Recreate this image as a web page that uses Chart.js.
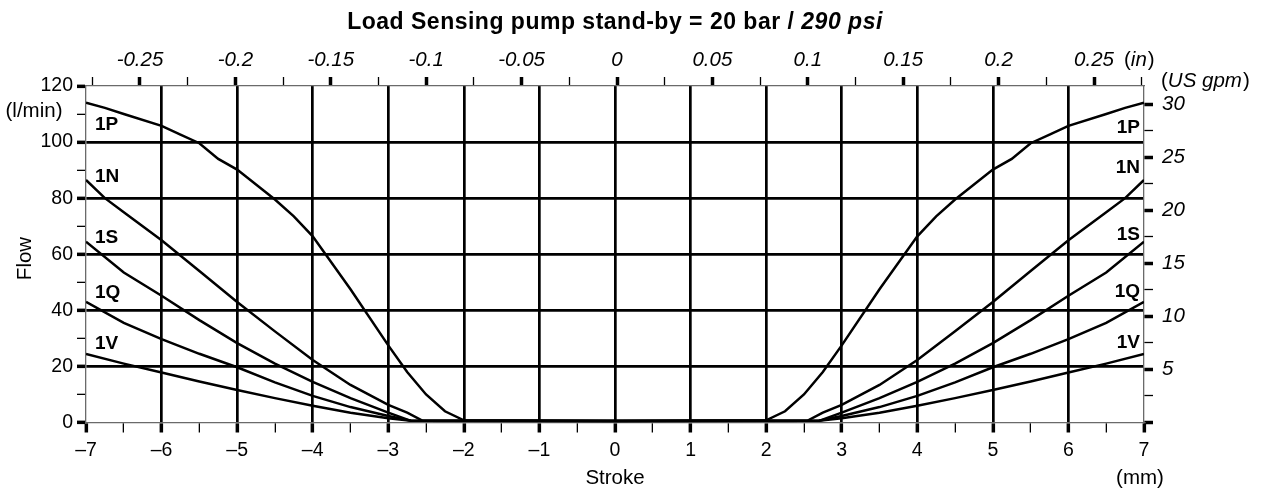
<!DOCTYPE html>
<html lang="en">
<head>
<meta charset="UTF-8">
<title>Load Sensing pump stand-by flow curves</title>
<script src="https://cdn.jsdelivr.net/npm/chart.js"></script>
<style>
  html, body { margin: 0; padding: 0; background: #fff; }
  #wrap { width: 1261px; height: 490px; }
</style>
</head>
<body>
<div id="wrap"><canvas id="flowChart" width="1261" height="490"></canvas></div>
<script>
// Spool flow vs. stroke, one pair of arrays per spool (stroke in mm, flow in l/min)
const stroke1P = [-7, -6.75, -6.5, -6, -5.75, -5.5, -5.25, -5, -4.5, -4.25, -4, -3.5, -3, -2.75, -2.5, -2.25, -2, 0, 2, 2.25, 2.5, 2.75, 3, 3.5, 4, 4.25, 4.5, 5, 5.25, 5.5, 5.75, 6, 6.5, 6.75, 7];
const flow1P   = [114, 112.2, 110, 105.8, 102.7, 99.6, 94, 90.2, 79.5, 73.5, 66.4, 47.5, 27.5, 18, 10, 4, 0.8, 0.5, 0.8, 4, 10, 18, 27.5, 47.5, 66.4, 73.5, 79.5, 90.2, 94, 99.6, 102.7, 105.8, 110, 112.2, 114];

const stroke1N = [-7, -6.75, -6.5, -6, -5.5, -5, -4.5, -4, -3.5, -3, -2.75, -2.55, 0, 2.55, 2.75, 3, 3.5, 4, 4.5, 5, 5.5, 6, 6.5, 6.75, 7];
const flow1N   = [86.5, 80, 75, 65, 54, 43, 32.5, 22.3, 13.4, 6.3, 3.5, 0.7, 0.5, 0.7, 3.5, 6.3, 13.4, 22.3, 32.5, 43, 54, 65, 75, 80, 86.5];

const stroke1S = [-7, -6.5, -6, -5.5, -5, -4.5, -4, -3.5, -3, -2.7, 0, 2.7, 3, 3.5, 4, 4.5, 5, 5.5, 6, 6.5, 7];
const flow1S   = [64.5, 53.5, 45.2, 36.5, 28.3, 21, 14.5, 8.7, 3.5, 0.6, 0.5, 0.6, 3.5, 8.7, 14.5, 21, 28.3, 36.5, 45.2, 53.5, 64.5];

const stroke1Q = [-7, -6.5, -6, -5.5, -5, -4.5, -4, -3.5, -3, -2.7, 0, 2.7, 3, 3.5, 4, 4.5, 5, 5.5, 6, 6.5, 7];
const flow1Q   = [43, 35.5, 29.7, 24.5, 19.7, 14.3, 9.5, 5.5, 2.3, 0.6, 0.5, 0.6, 2.3, 5.5, 9.5, 14.3, 19.7, 24.5, 29.7, 35.5, 43];

const stroke1V = [-7, -6.5, -6, -5.5, -5, -4.5, -4, -3.5, -3, -2.7, 0, 2.7, 3, 3.5, 4, 4.5, 5, 5.5, 6, 6.5, 7];
const flow1V   = [24.4, 21, 17.8, 14.6, 11.6, 8.7, 6, 3.5, 1.5, 0.6, 0.5, 0.6, 1.5, 3.5, 6, 8.7, 11.6, 14.6, 17.8, 21, 24.4];

const spoolNames = ['1P', '1N', '1S', '1Q', '1V'];

// secondary axes: inches on top, US gallons per minute on the right
const inchTicks = [-0.275, -0.25, -0.225, -0.2, -0.175, -0.15, -0.125, -0.1, -0.075, -0.05, -0.025, 0, 0.025, 0.05, 0.075, 0.1, 0.125, 0.15, 0.175, 0.2, 0.225, 0.25, 0.275];
const gpmTicks = [0, 2.5, 5, 7.5, 10, 12.5, 15, 17.5, 20, 22.5, 25, 27.5, 30];

const LPM_PER_GPM = 3.785411784;

const FONT = '"Liberation Sans", Arial, sans-serif';
const BORDER = '#6a6a6a';
const CAPTION = '20.5px ' + FONT;
const CAPTION_IT = 'italic 20.5px ' + FONT;

function near(v, step) {
  return Math.abs(v / step - Math.round(v / step)) < 1e-6;
}
function dash(v) {
  return v < 0 ? '\u2013' + Math.abs(v) : String(v);
}
function pts(xs, ys) {
  return xs.map((x, i) => ({ x: x, y: ys[i] }));
}

const seriesStrokes = [stroke1P, stroke1N, stroke1S, stroke1Q, stroke1V];
const seriesFlows = [flow1P, flow1N, flow1S, flow1Q, flow1V];

const datasets = spoolNames.map((name, i) => ({
  label: name,
  data: pts(seriesStrokes[i], seriesFlows[i]),
  borderColor: '#000',
  borderWidth: 2.5,
  pointRadius: 0,
  tension: 0,
  fill: false,
  xAxisID: 'x',
  yAxisID: 'y'
}));

// where the spool names sit, in flow units, next to each plot edge
const nameFlowLeft = [106.3, 87.8, 66, 46.3, 28.2];
const nameFlowRight = [105, 90.8, 67, 46.7, 28.3];

// draws "(" + italic part + ")" starting at x
function unitText(ctx, x, y, inner) {
  ctx.textAlign = 'left';
  ctx.font = CAPTION;
  ctx.fillText('(', x, y);
  let w = ctx.measureText('(').width;
  ctx.font = CAPTION_IT;
  ctx.fillText(inner, x + w, y);
  w += ctx.measureText(inner).width + 1;
  ctx.font = CAPTION;
  ctx.fillText(')', x + w, y);
}

const textPlugin = {
  id: 'chartText',
  afterDraw(chart) {
    const ctx = chart.ctx;
    const ca = chart.chartArea;
    const sy = chart.scales.y;
    ctx.save();
    ctx.fillStyle = '#000';
    ctx.textBaseline = 'middle';

    // title with the imperial pressure in italics
    const t1 = 'Load Sensing pump stand-by = 20 bar / ';
    const t2 = '290 psi';
    ctx.letterSpacing = '0.5px';
    ctx.font = 'bold 23px ' + FONT;
    const w1 = ctx.measureText(t1).width;
    ctx.font = 'italic bold 23px ' + FONT;
    const w2 = ctx.measureText(t2).width;
    const tx = 615 - (w1 + w2) / 2;
    ctx.textAlign = 'left';
    ctx.font = 'bold 23px ' + FONT;
    ctx.fillText(t1, tx, 23);
    ctx.font = 'italic bold 23px ' + FONT;
    ctx.fillText(t2, tx + w1, 23);
    ctx.letterSpacing = '0px';

    // unit captions
    ctx.font = CAPTION;
    ctx.textAlign = 'center';
    ctx.fillText('(l/min)', 34, 111);
    ctx.fillText('Stroke', (ca.left + ca.right) / 2, 478);
    ctx.fillText('(mm)', 1140, 478);

    unitText(ctx, 1124, 60, 'in');
    unitText(ctx, 1161, 81, 'US gpm');

    // rotated axis title
    ctx.save();
    ctx.translate(25, 258.5);
    ctx.rotate(-Math.PI / 2);
    ctx.font = CAPTION;
    ctx.textAlign = 'center';
    ctx.fillText('Flow', 0, 0);
    ctx.restore();

    // spool names on both sides
    ctx.font = 'bold 19px ' + FONT;
    spoolNames.forEach((name, i) => {
      ctx.textAlign = 'left';
      ctx.fillText(name, ca.left + 9, sy.getPixelForValue(nameFlowLeft[i]));
      ctx.textAlign = 'right';
      ctx.fillText(name, ca.right - 4, sy.getPixelForValue(nameFlowRight[i]));
    });
    ctx.restore();
  }
};

new Chart(document.getElementById('flowChart'), {
  type: 'line',
  data: { datasets: datasets },
  options: {
    responsive: false,
    animation: false,
    events: [],
    layout: { padding: 0 },
    plugins: {
      legend: { display: false },
      tooltip: { enabled: false },
      title: { display: false }
    },
    scales: {
      x: {
        type: 'linear',
        position: 'bottom',
        min: -7,
        max: 7,
        afterFit: s => { s.height = 67.5; },
        ticks: {
          stepSize: 0.5,
          autoSkip: false,
          maxRotation: 0,
          padding: 6,
          color: '#000',
          font: { family: FONT, size: 19.5 },
          callback: v => near(v, 1) ? dash(Math.round(v)) : ''
        },
        grid: {
          color: c => (near(c.tick.value, 1) && Math.abs(c.tick.value) < 7) ? '#000' : 'rgba(0,0,0,0)',
          lineWidth: 2.7,
          tickLength: 10,
          tickColor: '#000',
          tickWidth: c => near(c.tick.value, 1) ? 3.5 : 1.3
        },
        border: { color: BORDER, width: 1.3 }
      },
      xIn: {
        type: 'linear',
        axis: 'x',
        position: 'top',
        min: -0.2783,
        max: 0.2762,
        afterFit: s => { s.height = 86; },
        afterBuildTicks: s => { s.ticks = inchTicks.map(v => ({ value: v })); },
        ticks: {
          autoSkip: false,
          maxRotation: 0,
          padding: 4,
          color: '#000',
          font: { family: FONT, size: 20.5, style: 'italic' },
          callback: v => near(v, 0.05) ? String(Math.round(v * 100) / 100) : ''
        },
        grid: {
          drawOnChartArea: false,
          tickLength: 9,
          tickColor: '#000',
          tickWidth: c => near(c.tick.value, 0.05) ? 3.5 : 1.3
        },
        border: { color: BORDER, width: 1.3 }
      },
      y: {
        type: 'linear',
        position: 'left',
        min: 0,
        max: 120,
        afterFit: s => { s.width = 86; },
        ticks: {
          stepSize: 10,
          autoSkip: false,
          padding: 4,
          color: '#000',
          font: { family: FONT, size: 19.5 },
          callback: v => near(v, 20) ? String(v) : ''
        },
        grid: {
          color: c => (near(c.tick.value, 20) && c.tick.value > 0 && c.tick.value < 120) ? '#000' : 'rgba(0,0,0,0)',
          lineWidth: 2.7,
          tickLength: 9,
          tickColor: '#000',
          tickWidth: c => near(c.tick.value, 20) ? 3.5 : 1.3
        },
        border: { color: BORDER, width: 1.3 }
      },
      yGpm: {
        type: 'linear',
        axis: 'y',
        position: 'right',
        min: 0,
        max: 120 / LPM_PER_GPM,
        afterFit: s => { s.width = 117; },
        afterBuildTicks: s => { s.ticks = gpmTicks.map(v => ({ value: v })); },
        ticks: {
          autoSkip: false,
          padding: 9,
          color: '#000',
          font: { family: FONT, size: 20.5, style: 'italic' },
          callback: v => (near(v, 5) && v > 0) ? String(v) : ''
        },
        grid: {
          drawOnChartArea: false,
          tickLength: 9,
          tickColor: '#000',
          tickWidth: c => near(c.tick.value, 5) ? 3.5 : 1.3
        },
        border: { color: BORDER, width: 1.3 }
      }
    }
  },
  plugins: [textPlugin]
});
</script>
</body>
</html>
